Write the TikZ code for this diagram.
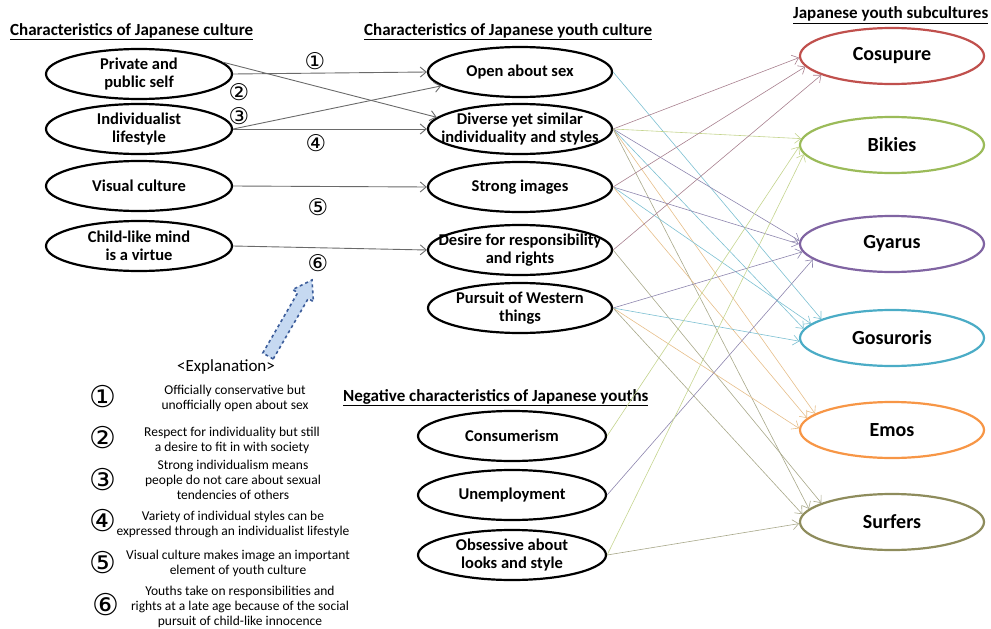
\documentclass[tikz,border=0pt]{standalone}
\usepackage{fontspec}
\setmainfont{Carlito}
\newfontfamily\dv{DejaVu Sans}
\usetikzlibrary{shapes.geometric,arrows.meta}
\definecolor{cRed}{HTML}{C0504D}
\definecolor{cGreen}{HTML}{9BBB59}
\definecolor{cPurple}{HTML}{8064A2}
\definecolor{cCyan}{HTML}{4BACC6}
\definecolor{cOrange}{HTML}{F79646}
\definecolor{cOlive}{HTML}{8E8C5C}
\definecolor{lRed}{HTML}{A8808F}
\definecolor{lGreen}{HTML}{C4D48E}
\definecolor{lPurple}{HTML}{8E86AE}
\definecolor{lCyan}{HTML}{7DC0D2}
\definecolor{lOrange}{HTML}{E6BE8A}
\definecolor{lOlive}{HTML}{A8A88A}
\definecolor{aBlue}{HTML}{3B5C9A}
\definecolor{aFill}{HTML}{C6D9F1}
\definecolor{lGray}{HTML}{6A6A6A}
\begin{document}
\begin{tikzpicture}[x=1pt,y=-1pt,
  blk/.style={ellipse,draw=black,line width=2.2pt,minimum width=186pt,minimum height=50pt,inner xsep=-22pt,inner ysep=0pt,align=center,font=\bfseries\fontsize{16.5}{18}\selectfont},
  sub/.style={ellipse,line width=2.2pt,minimum width=184pt,minimum height=56pt,inner sep=0pt,font=\bfseries\fontsize{20}{22}\selectfont},
  hdr/.style={anchor=base west,inner sep=0pt,font=\bfseries\fontsize{17}{18}\selectfont},
  larr/.style={draw=lGray,line width=0.9pt,-{Straight Barb[length=6pt,width=10pt]}},
  carr/.style={line width=0.6pt,-{Straight Barb[length=6pt,width=10pt]}},
  num/.style={font=\dv\fontsize{23}{23}\selectfont,inner sep=0pt},
  enum/.style={font=\dv\fontsize{30}{30}\selectfont,inner sep=0pt},
  expl/.style={align=center,inner sep=0pt,font=\fontsize{13.5}{15}\selectfont}
]
\useasboundingbox (0,0) rectangle (991,629);

% headers
\node[hdr] (h1) at (10,35) {\underline{Characteristics of Japanese culture}};
\node[hdr] (h2) at (364,35) {\underline{Characteristics of Japanese youth culture}};
\node[hdr] (h3) at (793,19) {\underline{Japanese youth subcultures}};
\node[hdr] (h4) at (343,401) {\underline{Negative characteristics of Japanese youths}};

% left column
\node[blk] (pri) at (139,74) {Private and\\public self};
\node[blk] (ind) at (139,129) {Individualist\\lifestyle};
\node[blk] (vis) at (139,186) {Visual culture};
\node[blk] (chi) at (139,246) {Child-like mind\\is a virtue};

% middle column
\node[blk,minimum width=184pt] (open) at (520,72) {Open about sex};
\node[blk,minimum width=184pt] (div) at (520,129) {Diverse yet similar\\individuality and styles};
\node[blk,minimum width=184pt] (str) at (520,187) {Strong images};
\node[blk,minimum width=184pt] (des) at (520,250) {Desire for responsibility\\and rights};
\node[blk,minimum width=184pt] (pur) at (520,308) {Pursuit of Western\\things};

% negatives
\node[blk,minimum width=188pt] (con) at (512,436) {Consumerism};
\node[blk,minimum width=188pt] (une) at (512,495) {Unemployment};
\node[blk,minimum width=188pt] (obs) at (512,555) {Obsessive about\\looks and style};

% subcultures
\node[sub,draw=cRed] (cos) at (892,56) {Cosupure};
\node[sub,draw=cGreen] (bik) at (892,145) {Bikies};
\node[sub,draw=cPurple] (gya) at (892,244) {Gyarus};
\node[sub,draw=cCyan] (gos) at (892,338) {Gosuroris};
\node[sub,draw=cOrange] (emo) at (892,430) {Emos};
\node[sub,draw=cOlive] (sur) at (892,522) {Surfers};

% left to middle
\draw[larr] (pri.east) -- (open.west);
\draw[larr] (pri.8) -- (div.172);
\draw[larr] (ind.east) -- (open.190);
\draw[larr] (ind.west -| ind.east) -- (div.west);
\draw[larr] (vis.east) -- (str.west);
\draw[larr] (chi.east) -- (des.west);
\node[num] (n1) at (315,61) {①};
\node[num] (n2) at (239,92) {②};
\node[num] (n3) at (239,116) {③};
\node[num] (n4) at (316,143) {④};
\node[num] (n5) at (318,207) {⑤};
\node[num] (n6) at (318,263) {⑥};

% middle to subcultures
\draw[carr,lCyan] (open.east) -- (gos.165);
\draw[carr,lRed] (div.east) -- (cos.181);
\draw[carr,lGreen] (div.east) -- (bik.176);
\draw[carr,lPurple] (div.east) -- (gya.178);
\draw[carr,lCyan] (div.east) -- (gos.174);
\draw[carr,lOrange] (div.east) -- (emo.168);
\draw[carr,lOlive] (div.east) -- (sur.171);
\draw[carr,lRed] (str.east) -- (cos.187);
\draw[carr,lPurple] (str.east) -- (gya.180);
\draw[carr,lCyan] (str.east) -- (gos.170);
\draw[carr,lOrange] (str.east) -- (emo.172);
\draw[carr,lRed] (des.east) -- (cos.195);
\draw[carr,lOlive] (des.east) -- (sur.165);
\draw[carr,lPurple] (pur.east) -- (gya.185);
\draw[carr,lCyan] (pur.east) -- (gos.182);
\draw[carr,lOrange] (pur.east) -- (emo.179);
\draw[carr,lOlive] (pur.east) -- (sur.175);
\draw[carr,lGreen] (con.east) -- (bik.181);
\draw[carr,lPurple] (une.east) -- (gya.191);
\draw[carr,lGreen] (obs.east) -- (bik.186);
\draw[carr,lOlive] (obs.east) -- (sur.181);

% block arrow
\draw[aBlue,fill=aFill,dashed,line width=1.6pt,line join=miter]
  (273.2,359.0) -- (308.2,298.6) -- (313.4,301.6) -- (312,280) -- (292.6,289.6) -- (297.8,292.6) -- (262.8,353.0) -- cycle;

% explanation
\node[inner sep=0pt,font=\fontsize{17}{18}\selectfont] (ex) at (226,367) {<Explanation>};
\node[enum] (e1) at (103,397) {①};
\node[expl] (t1) at (235,398) {Officially conservative but\\unofficially open about sex};
\node[enum] (e2) at (103,438) {②};
\node[expl] (t2) at (232,440) {Respect for individuality but still\\a desire to fit in with society};
\node[enum] (e3) at (103,480) {③};
\node[expl] (t3) at (233,480) {Strong individualism means\\people do not care about sexual\\tendencies of others};
\node[enum] (e4) at (103,521) {④};
\node[expl] (t4) at (233,524) {Variety of individual styles can be\\expressed through an individualist lifestyle};
\node[enum] (e5) at (103,563) {⑤};
\node[expl] (t5) at (238,563) {Visual culture makes image an important\\element of youth culture};
\node[enum] (e6) at (106,605) {⑥};
\node[expl] (t6) at (240,607) {Youths take on responsibilities and\\rights at a late age because of the social\\pursuit of child-like innocence};
\end{tikzpicture}
\end{document}
